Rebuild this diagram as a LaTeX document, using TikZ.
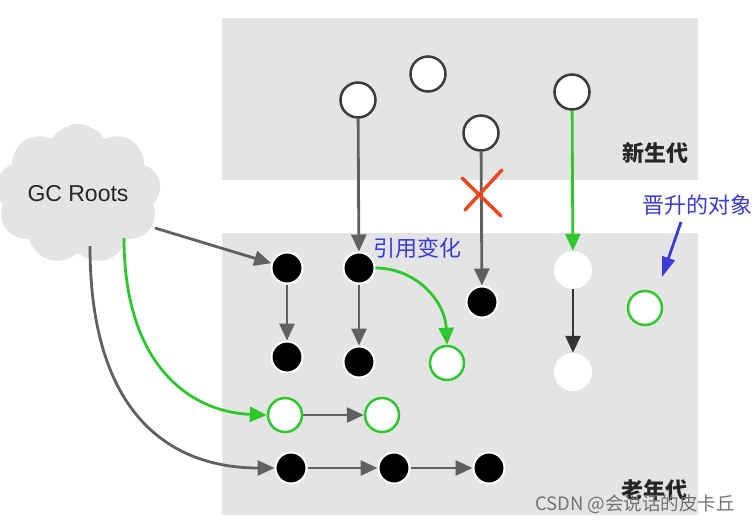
\documentclass[tikz,border=0pt]{standalone}
\usepackage{fontspec}
\setmainfont{Liberation Sans}
\newfontfamily\cjk{Noto Sans CJK SC}
\usetikzlibrary{arrows.meta,shapes.symbols}
\definecolor{boxgray}{RGB}{228,228,228}
\definecolor{arrgray}{RGB}{96,96,96}
\definecolor{ggreen}{RGB}{44,200,44}
\definecolor{lblue}{RGB}{58,58,215}
\definecolor{xred}{RGB}{235,72,32}
\definecolor{ringgray}{RGB}{60,60,60}
\tikzset{
  region/.style={fill=boxgray, draw=none},
  young/.style={circle, draw=ringgray, line width=2.5pt, fill=white, minimum size=35pt, inner sep=0pt},
  blk/.style={circle, draw=white, line width=2pt, fill=black, minimum size=31pt, inner sep=0pt},
  grn/.style={circle, draw=ggreen, line width=2.5pt, fill=white, minimum size=34pt, inner sep=0pt},
  wht/.style={circle, fill=white, minimum size=38pt, inner sep=0pt},
  tipT/.tip={Triangle[length=17pt,width=15pt]},
  garr/.style={draw=arrgray, line width=2.8pt, -tipT, fill=none},
  grarr/.style={draw=ggreen, line width=2.8pt, -tipT},
  darr/.style={draw=black!80, line width=2.8pt, -tipT},
  barr/.style={draw=lblue, line width=2.8pt, -{Triangle[length=20pt,width=13pt]}},
  gen/.style={font=\cjk\fontsize{22}{24}\selectfont\bfseries, text=black!85},
  bluelbl/.style={font=\cjk\fontsize{22}{24}\selectfont, text=lblue},
}
\begin{document}
\begin{tikzpicture}[x=1pt,y=-1pt]
\useasboundingbox (0,0) rectangle (756,523);
\fill[white] (0,0) rectangle (756,523);
% generations
\fill[region] (222,18) rectangle (698,180);
\fill[region] (222,233) rectangle (698,515);
\node[gen] (ylbl) at (655,153) {新生代};
\node[gen] (olbl) at (654,490) {老年代};
% cloud
\node[cloud, cloud puffs=9, cloud puff arc=120, aspect=1.3, fill=boxgray, draw=none,
      minimum width=152pt, minimum height=110pt, font=\fontsize{23}{24}\selectfont, text=black!85]
      (gc) at (78,194) {GC Roots};
% young objects
\node[young] (y1) at (358,100) {};
\node[young] (y2) at (428,74) {};
\node[young] (y3) at (481,133) {};
\node[young] (y4) at (572,92) {};
% old objects
\node[blk] (o1) at (287,268) {};
\node[blk] (o2) at (359,268) {};
\node[blk] (o3) at (482,302) {};
\node[blk] (o4) at (287,357) {};
\node[blk] (o5) at (359,362) {};
\node[grn] (g1) at (447,363) {};
\node[grn] (g2) at (285,415) {};
\node[grn] (g3) at (382,415) {};
\node[blk] (r1) at (291,468) {};
\node[blk] (r2) at (394,468) {};
\node[blk] (r3) at (489,468) {};
\node[wht] (w1) at (573,270) {};
\node[wht] (w2) at (573,372) {};
\node[grn] (g4) at (645,308) {};
% connector coordinates on the cloud
\coordinate (c1) at (155,228);
\coordinate (c2) at (124,238);
\coordinate (c3) at (90,246);
% arrows from roots
\draw[garr] (c1) -- (o1);
\draw[grarr] (c2) .. controls (124,365) and (190,412) .. (g2.west);
\draw[garr] (c3) .. controls (90,425) and (180,468) .. (r1.west);
% young to old
\draw[garr] (y1) -- (o2);
\draw[garr] (y3) -- (o3);
\draw[grarr] (y4) -- (w1);
\draw[darr] (w1) -- (w2);
% old internal
\draw[garr] (o1) -- (o4);
\draw[garr] (o2) -- (o5);
\draw[grarr] (o2.east) .. controls (415,268) and (445,300) .. (g1.north);
\draw[garr] (g2) -- (g3);
\draw[garr] (r1) -- (r2);
\draw[garr] (r2) -- (r3);
% red cross
\draw[xred, line width=3.5pt, line cap=round] (462,178) -- (501,216);
\draw[xred, line width=3.5pt, line cap=round] (502,170) -- (465,210);
% labels
\node[bluelbl] (lref) at (417,248) {引用变化};
\node[bluelbl] (lpro) at (697,205) {晋升的对象};
\coordinate (bs) at (681,222);
\coordinate (be) at (662,277);
\draw[barr] (bs) -- (be);
% watermark
\node[font=\cjk\fontsize{18.5}{20}\selectfont, text=black!55] (wm) at (635,504) {CSDN @会说话的皮卡丘};
\end{tikzpicture}
\end{document}
